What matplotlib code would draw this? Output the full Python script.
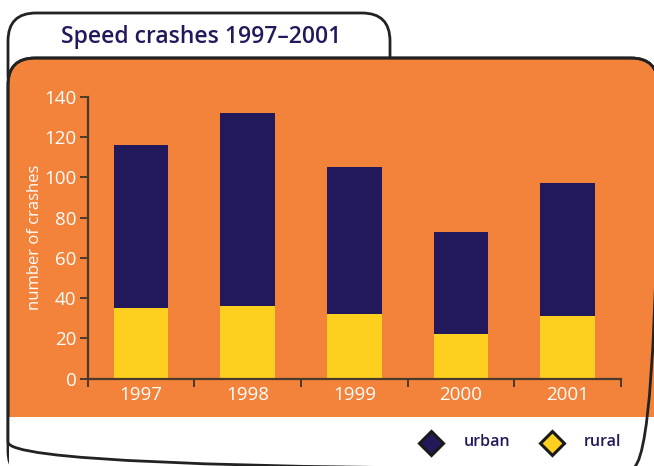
import matplotlib
matplotlib.use("Agg")
import matplotlib.pyplot as plt
from matplotlib.patches import FancyBboxPatch, Rectangle
import numpy as np

plt.rcParams["font.family"] = ["Open Sans", "DejaVu Sans"]

# ── Data ──────────────────────────────────────────────────────────────────────
years = ["1997", "1998", "1999", "2000", "2001"]
rural = [35, 36, 32, 22, 31]
urban = [81, 96, 73, 51, 66]
y_ticks = [0, 20, 40, 60, 80, 100, 120, 140]

ORANGE = "#F3833A"
NAVY = "#22195C"
YELLOW = "#FDD01F"
SPINE = "#4a3a2c"
LINE = "#222222"

W, H = 654, 466
fig = plt.figure(figsize=(W / 100, H / 100), dpi=100)

# ── Background panels (pixel coordinates) ────────────────────────────────────
bg = fig.add_axes([0, 0, 1, 1], zorder=0)
bg.set_xlim(0, W)
bg.set_ylim(H, 0)
bg.axis("off")

tab = FancyBboxPatch((8, 13), 382, 90, boxstyle="round,pad=0,rounding_size=28",
                     facecolor="white", edgecolor=LINE, linewidth=2)
bg.add_patch(tab)
frame_fill = FancyBboxPatch((8, 58), 650, 411, boxstyle="round,pad=0,rounding_size=27",
                            facecolor="white", edgecolor="none")
bg.add_patch(frame_fill)
panel = FancyBboxPatch((8, 58), 650, 420, boxstyle="round,pad=0,rounding_size=27",
                       facecolor=ORANGE, edgecolor=LINE, linewidth=2)
bg.add_patch(panel)
bg.add_patch(Rectangle((9.2, 417), 647.6, 80, facecolor="white", edgecolor="none"))
frame_line = FancyBboxPatch((8, 58), 650, 411, boxstyle="round,pad=0,rounding_size=27",
                            facecolor="none", edgecolor=LINE, linewidth=2)
bg.add_patch(frame_line)

bg.text(201, 37, "Speed crashes 1997\u20132001", color=NAVY, fontsize=16.5,
        fontweight="semibold", ha="center", va="center")

# legend
bg.plot([430.5], [443], marker="D", markersize=12.5, markerfacecolor=NAVY,
        markeredgecolor="#1a1a1a", markeredgewidth=2.2, linestyle="none")
bg.plot([551.5], [443], marker="D", markersize=12.5, markerfacecolor=YELLOW,
        markeredgecolor="#1a1a1a", markeredgewidth=2.2, linestyle="none")
bg.text(464, 442, "urban", color=NAVY, fontsize=11.5, fontweight="semibold",
        ha="left", va="center")
bg.text(584, 442, "rural", color=NAVY, fontsize=11.5, fontweight="semibold",
        ha="left", va="center")

# ── Chart ─────────────────────────────────────────────────────────────────────
ax = fig.add_axes([87.7 / W, 1 - 378.7 / H, (621 - 87.7) / W, (378.7 - 96.7) / H], zorder=1)
ax.patch.set_alpha(0)

x = np.arange(len(years))
ax.bar(x, rural, width=0.51, color=YELLOW, zorder=2)
ax.bar(x, urban, width=0.51, bottom=rural, color=NAVY, zorder=2)

ax.set_xlim(-0.5, len(years) - 0.5)
ax.set_ylim(0, 140)
ax.set_yticks(y_ticks)
ax.set_xticks(x)
ax.set_xticklabels(years)
ax.set_xticks(np.arange(len(years) + 1) - 0.5, minor=True)

for side in ("top", "right"):
    ax.spines[side].set_visible(False)
for side in ("left", "bottom"):
    ax.spines[side].set_color(SPINE)
    ax.spines[side].set_linewidth(1.6)

ax.tick_params(axis="x", which="major", length=0, pad=5, labelsize=13.5, labelcolor="white")
ax.tick_params(axis="x", which="minor", length=6, width=1.4, color=SPINE, direction="out")
ax.tick_params(axis="y", length=6, width=1.4, color=SPINE, direction="out", pad=2,
               labelsize=13.5, labelcolor="white")
for lab in ax.get_xticklabels() + ax.get_yticklabels():
    lab.set_fontweight("medium")

ax.set_ylabel("number of crashes", color="white", fontsize=12, labelpad=1)

fig.savefig("out.png", dpi=100)
